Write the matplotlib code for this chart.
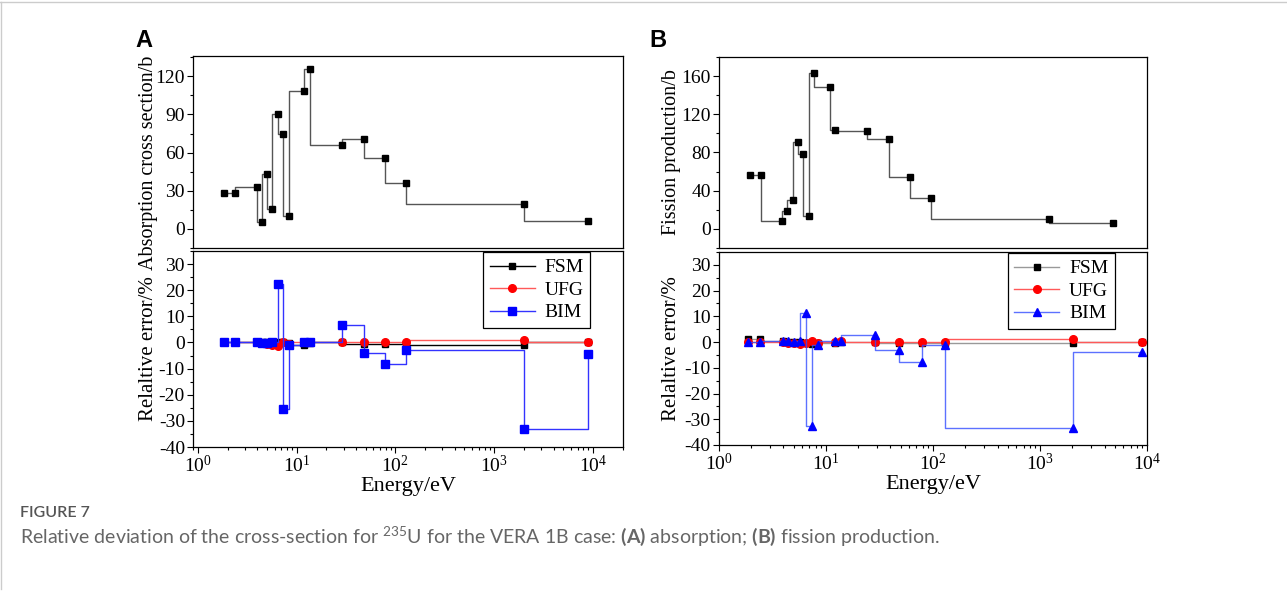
import numpy as np
import matplotlib
matplotlib.use("Agg")
import matplotlib.pyplot as plt
from matplotlib.ticker import MultipleLocator, LogLocator, FuncFormatter, NullFormatter
from matplotlib.lines import Line2D

# energy group points (eV), shared by all panels
energy = [1.86, 2.40, 3.93, 4.45, 5.04, 5.70, 6.47, 7.35, 8.35, 12.0, 13.7,
          28.8, 47.6, 78.5, 129.0, 2020.0, 9000.0]

# (A) absorption cross section / b
absorption = [28.5, 28.5, 32.7, 5.5, 43.4, 16.0, 90.0, 74.5, 9.9, 108.3, 125.6,
              65.9, 70.6, 55.5, 35.8, 19.6, 6.0]
# (B) fission production / b
fission = [56.1, 56.1, 8.4, 19.0, 30.2, 91.2, 78.2, 13.0, 163.0, 149.0, 104.0,
           103.0, 94.0, 54.4, 32.3, 10.5, 6.0]

# relative errors (%)
fsm_a = [0.0, 0.0, 0.2, 0.0, 0.0, 0.0, 0.3, 0.0, -0.3, -0.8, -0.3, 0.0, -0.4, -0.5, -0.6, -0.9, 0.1]
ufg_a = [0.0, 0.0, 0.0, -0.3, -0.5, -0.8, -1.2, 0.3, -0.5, 0.0, 0.3, 0.0, 0.0, 0.0, 0.0, 1.1, 0.2]
bim_a = [0.0, 0.0, 0.3, -0.3, -0.3, 0.0, 22.3, -25.3, -1.0, 0.0, 0.0, 6.5, -4.2, -8.3, -2.8, -33.0, -4.5]

fsm_b = [1.0, 1.0, 0.3, 0.2, 0.0, 0.2, -0.3, -0.8, -0.5, -0.5, 0.0, 0.0, -0.3, -0.3, -0.3, -0.3, 0.1]
ufg_b = [0.0, 0.0, 0.0, -0.3, -0.5, -0.8, -0.5, 0.3, -0.3, 0.0, 0.3, 0.0, 0.0, 0.0, 0.0, 1.2, 0.2]
bim_b = [0.0, 0.0, 0.3, 0.3, 0.2, 0.4, 11.2, -32.5, -1.0, 0.3, 0.3, 2.6, -3.1, -7.9, -1.3, -33.5, -4.0]

plt.rcParams["font.family"] = "Liberation Serif"
plt.rcParams["axes.unicode_minus"] = False
plt.rcParams["mathtext.fontset"] = "custom"
plt.rcParams["mathtext.rm"] = "Lato"
plt.rcParams["mathtext.bf"] = "Lato:bold"

fig = plt.figure(figsize=(12.87, 6.01), dpi=100)

ax_a1 = fig.add_axes([0.1502, 0.5874, 0.3336, 0.3195])
ax_a2 = fig.add_axes([0.1502, 0.2562, 0.3336, 0.3262])
ax_b1 = fig.add_axes([0.5587, 0.5874, 0.3326, 0.3178])
ax_b2 = fig.add_axes([0.5587, 0.2596, 0.3326, 0.3211])

expo = FuncFormatter(lambda v, p: r"$\mathregular{10^{%d}}$" % round(np.log10(v)))


def style(ax, ymaj, ymin):
    ax.set_xscale("log")
    ax.xaxis.set_major_locator(LogLocator(base=10, numticks=10))
    ax.xaxis.set_minor_locator(LogLocator(base=10, subs=range(2, 10), numticks=20))
    ax.xaxis.set_major_formatter(expo)
    ax.xaxis.set_minor_formatter(NullFormatter())
    ax.yaxis.set_major_locator(MultipleLocator(ymaj))
    ax.yaxis.set_minor_locator(MultipleLocator(ymin))
    ax.tick_params(which="both", direction="out", width=0.8, labelsize=14,
                   top=False, right=False, pad=2)
    ax.tick_params(which="major", length=4)
    ax.tick_params(which="minor", length=2.5)
    for s in ax.spines.values():
        s.set_linewidth(0.9)


# top panels
for ax, vals, ylim, yl, ymaj, ymin in [
        (ax_a1, absorption, (-15, 136), "Absorption cross section/b", 30, 15),
        (ax_b1, fission, (-20, 180), "Fission production/b", 40, 20)]:
    style(ax, ymaj, ymin)
    ax.plot(energy, vals, drawstyle="steps-pre", color="#555555", lw=1,
            marker="s", ms=5, mfc="k", mec="k")
    ax.set_xlim(0.9, 2e4)
    ax.set_ylim(*ylim)
    ax.tick_params(axis="x", which="both", bottom=False, labelbottom=False)
    ax.set_ylabel(yl, fontsize=14.5)

# bottom panels
panels = [
    (ax_a2, fsm_a, ufg_a, bim_a, "k", (0.2, 0.2, 1.0, 1.0), "s", "steps-post", (0.9, 2e4)),
    (ax_b2, fsm_b, ufg_b, bim_b, "#999999", (0.2, 0.3, 1.0, 0.8), "^", "steps-pre", (1, 1e4)),
]
for ax, fsm, ufg, bim, fcol, bcol, bmark, bstep, xlim in panels:
    style(ax, 10, 5)
    ax.plot(energy, fsm, drawstyle="steps-pre", color=fcol, lw=1,
            marker="s", ms=5, mfc="k", mec="k", label="FSM")
    ax.plot(energy, ufg, drawstyle="steps-pre", color=(1.0, 0.35, 0.35), lw=1,
            marker="o", ms=5.5, mfc="red", mec="red", label="UFG")
    ax.plot(energy, bim, drawstyle=bstep, color=bcol, lw=1,
            marker=bmark, ms=5.5, mfc="blue", mec="blue", label="BIM")
    ax.set_xlim(*xlim)
    ax.set_ylim(-40, 35)
    ax.set_ylabel("Relaltive error/%", fontsize=15)
    ax.set_xlabel("Energy/eV", fontsize=16, labelpad=0.5)
    leg = ax.legend(loc="upper right", bbox_to_anchor=(0.925, 0.995), borderaxespad=0,
                    fontsize=14, frameon=True, fancybox=False, edgecolor="k",
                    framealpha=1, handlelength=2.3, labelspacing=0.25,
                    borderpad=0.35, handletextpad=0.5)
    leg.get_frame().set_linewidth(0.9)

ax_a1.yaxis.set_label_coords(-0.082, 0.445)
ax_a2.yaxis.set_label_coords(-0.082, 0.5)
ax_b1.yaxis.set_label_coords(-0.088, 0.5)
ax_b2.yaxis.set_label_coords(-0.088, 0.5)

fig.text(0.1055, 0.922, "A", fontsize=17, fontweight="bold", family="Liberation Sans")
fig.text(0.5045, 0.922, "B", fontsize=17, fontweight="bold", family="Liberation Sans")

fig.text(0.0155, 0.146, "FIGURE 7", fontsize=11.5, color="#555555", family="Lato",
         fontweight="semibold", va="center")
fig.text(0.0155, 0.108,
         r"Relative deviation of the cross-section for $^{235}$U for the VERA 1B case: "
         r"$\mathbf{(A)}$ absorption; $\mathbf{(B)}$ fission production.",
         fontsize=14, color="#666666", family="Lato", va="center")

fig.add_artist(Line2D([0, 1], [0.996, 0.996], color="#cccccc", lw=1))
fig.add_artist(Line2D([0.001, 0.001], [0.02, 0.996], color="#cccccc", lw=1))

fig.savefig("out.png", dpi=100)
